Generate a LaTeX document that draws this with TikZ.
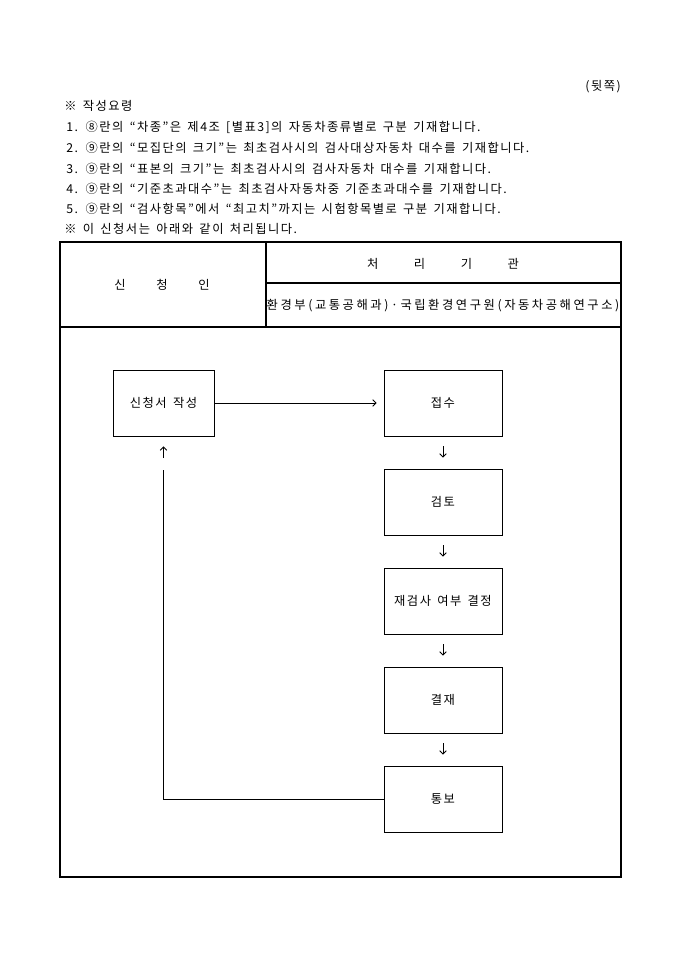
\documentclass[tikz,border=0pt]{standalone}
\usepackage{fontspec}
\setmainfont[LetterSpace=12,WordSpace=1.5]{Noto Sans CJK KR}
\usetikzlibrary{arrows.meta}
\begin{document}
\begin{tikzpicture}[x=0.75pt,y=-0.75pt,
  txt/.style={anchor=west, inner sep=0pt, font=\fontsize{9.2}{10}\selectfont},
  ctxt/.style={inner sep=0pt, font=\fontsize{9.2}{10}\selectfont},
  box/.style={draw, line width=0.7pt, minimum width=88.5pt, minimum height=49.5pt, inner sep=0pt, font=\fontsize{9.2}{10}\selectfont},
  arr/.style={line width=0.6pt, -{Straight Barb[length=2.5pt,width=5pt]}},
  tline/.style={line width=0.8pt}]
\useasboundingbox (0,0) rectangle (680,962);
\node[ctxt, anchor=east] (back) at (621,87) {(뒷쪽)};
\node[txt] (h1) at (64,106) {※ 작성요령};
\node[txt] (l1) at (66,127) {1. ⑧란의 “차종”은 제4조 [별표3]의 자동차종류별로 구분 기재합니다.};
\node[txt] (l2) at (66,148) {2. ⑨란의 “모집단의 크기”는 최초검사시의 검사대상자동차 대수를 기재합니다.};
\node[txt] (l3) at (66,169) {3. ⑨란의 “표본의 크기”는 최초검사시의 검사자동차 대수를 기재합니다.};
\node[txt] (l4) at (66,189) {4. ⑨란의 “기준초과대수”는 최초검사자동차중 기준초과대수를 기재합니다.};
\node[txt] (l5) at (66,209) {5. ⑨란의 “검사항목”에서 “최고치”까지는 시험항목별로 구분 기재합니다.};
\node[txt] (h2) at (64,229) {※ 이 신청서는 아래와 같이 처리됩니다.};
% table
\draw[tline] (60,242) rectangle (621,877);
\draw[tline] (266,242) -- (266,327);
\draw[tline] (266,283) -- (621,283);
\draw[tline] (60,327) -- (621,327);
\node[ctxt] (sin) at (162,285) {신\hspace{2.5em}청\hspace{2.5em}인};
\node[ctxt] (cheo) at (443,264) {처\hspace{2.9em}리\hspace{2.9em}기\hspace{2.9em}관};
\node[ctxt] (org) at (443,306) {\addfontfeature{LetterSpace=21}환경부(교통공해과)·국립환경연구원(자동차공해연구소)};
% flow
\node[box, minimum width=75.75pt] (b0) at (163.5,403) {신청서 작성};
\node[box] (b1) at (443,403) {접수};
\node[box] (b2) at (443,502) {검토};
\node[box] (b3) at (443,601) {재검사 여부 결정};
\node[box] (b4) at (443,700) {결재};
\node[box] (b5) at (443,799) {통보};
\draw[arr, shorten >=5.25pt] (b0) -- (b1);
\draw[arr, shorten <=7.5pt, shorten >=8.25pt] (b1) -- (b2);
\draw[arr, shorten <=7.5pt, shorten >=8.25pt] (b2) -- (b3);
\draw[arr, shorten <=7.5pt, shorten >=8.25pt] (b3) -- (b4);
\draw[arr, shorten <=7.5pt, shorten >=8.25pt] (b4) -- (b5);
\coordinate (c1) at (163.5,470);
\draw[line width=0.6pt] (b5.west) -| (c1);
\draw[arr, shorten <=9pt, shorten >=7.5pt] (c1) -- (b0.south);
\end{tikzpicture}
\end{document}
